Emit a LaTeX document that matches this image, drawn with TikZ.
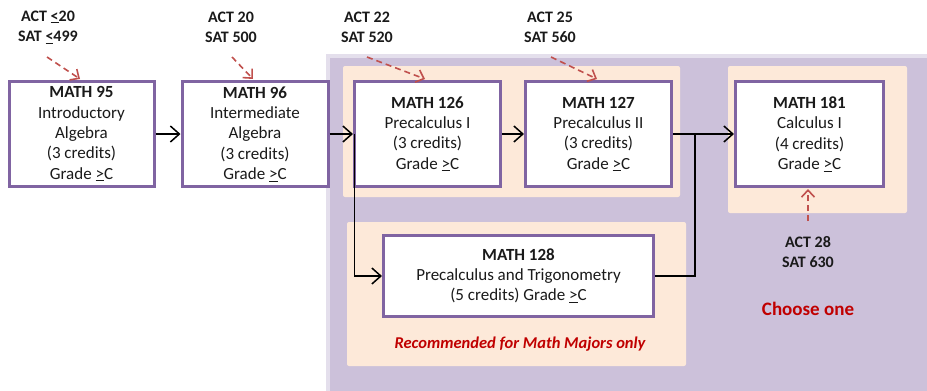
\documentclass[tikz,border=0pt]{standalone}
\usepackage{fontspec}
\setmainfont{Carlito}
\usetikzlibrary{arrows.meta}
\definecolor{lav}{HTML}{CCC1DA}
\definecolor{lavlight}{HTML}{E4DFEC}
\definecolor{peach}{HTML}{FDE9D9}
\definecolor{boxpurple}{HTML}{8064A2}
\definecolor{dred}{HTML}{C0504D}
\definecolor{cred}{HTML}{C00000}
\definecolor{txt}{HTML}{1A1A1A}
\begin{document}
\begin{tikzpicture}[x=1pt,y=-1pt,
  font=\fontsize{17}{20.3}\selectfont,
  course/.style={draw=boxpurple, line width=3pt, fill=white, inner sep=0pt,
    align=center, text=txt},
  lbl/.style={align=center, text=txt, font=\fontsize{16}{20.3}\selectfont\bfseries, inner sep=0pt},
  flow/.style={line width=1.5pt, black, -{Straight Barb[length=9pt,width=16pt,line width=1.5pt]}},
  plain/.style={line width=1.5pt, black},
  reddash/.style={line width=1.6pt, dred, dash pattern=on 6pt off 4pt,
    -{Straight Barb[length=7pt,width=13pt,line width=1.6pt]}},
  panel/.style={fill=peach, rounded corners=2pt}]
\useasboundingbox (0,0) rectangle (927,391);
% background regions
\fill[lavlight] (326,54) rectangle (927,391);
\fill[lav] (330,58) rectangle (927,391);
\fill[panel] (343,66) rectangle (680,197);
\fill[panel] (347,222) rectangle (686,366);
\fill[panel] (728,66) rectangle (907,213);
% course boxes
\node[course, minimum width=145pt, minimum height=105pt] (m95) at (81.5,134)
  {\textbf{MATH 95}\\Introductory\\Algebra\\(3 credits)\\Grade \underline{>}C};
\node[course, minimum width=146pt, minimum height=105pt] (m96) at (255,134)
  {\textbf{MATH 96}\\Intermediate\\Algebra\\(3 credits)\\Grade \underline{>}C};
\node[course, minimum width=146pt, minimum height=105pt] (m126) at (427.5,134)
  {\textbf{MATH 126}\\Precalculus I\\(3 credits)\\Grade \underline{>}C};
\node[course, minimum width=146pt, minimum height=105pt] (m127) at (598.5,134)
  {\textbf{MATH 127}\\Precalculus II\\(3 credits)\\Grade \underline{>}C};
\node[course, minimum width=148pt, minimum height=105pt] (m181) at (809.5,134)
  {\textbf{MATH 181}\\Calculus I\\(4 credits)\\Grade \underline{>}C};
\node[course, minimum width=270pt, minimum height=81pt] (m128) at (518.5,276)
  {\textbf{MATH 128}\\Precalculus and Trigonometry\\(5 credits) Grade \underline{>}C};
% score labels
\node[lbl] (a95) at (48,27) {ACT \underline{<}20\\SAT \underline{<}499};
\node[lbl] (a96) at (231,27) {ACT 20\\SAT 500};
\node[lbl] (a126) at (367,27) {ACT 22\\SAT 520};
\node[lbl] (a127) at (550,27) {ACT 25\\SAT 560};
\node[lbl] (a181) at (808,252) {ACT 28\\SAT 630};
\node[text=cred, font=\fontsize{19}{22}\selectfont\bfseries] (choose) at (808,309) {Choose one};
\node[text=cred, font=\fontsize{16.5}{20}\selectfont\bfseries\itshape] (rec) at (520,344) {Recommended for Math Majors only};
% red dashed arrows
\coordinate (s95) at (47,57);  \coordinate (e95) at (80,79);
\coordinate (s96) at (232,57); \coordinate (e96) at (253,79);
\coordinate (s126) at (367,57); \coordinate (e126) at (425,79);
\coordinate (s127) at (551,57); \coordinate (e127) at (597,79);
\coordinate (s181) at (808,221); \coordinate (e181) at (808,189);
\draw[reddash] (s95) -- (e95);
\draw[reddash] (s96) -- (e96);
\draw[reddash] (s126) -- (e126);
\draw[reddash] (s127) -- (e127);
\draw[reddash] (s181) -- (e181);
% flow arrows
\draw[flow] (m95.east) -- (m96.west);
\draw[flow] (m96.east) -- (m126.west);
\draw[flow] (m126.east) -- (m127.west);
\draw[flow] (m127.east) -- (m181.west);
\coordinate (j1) at ([xshift=1.5pt]m126.west);
\draw[flow] (j1) |- (m128.west);
\coordinate (j2) at (695,134);
\draw[plain] (m128.east) -| (j2);
\end{tikzpicture}
\end{document}
